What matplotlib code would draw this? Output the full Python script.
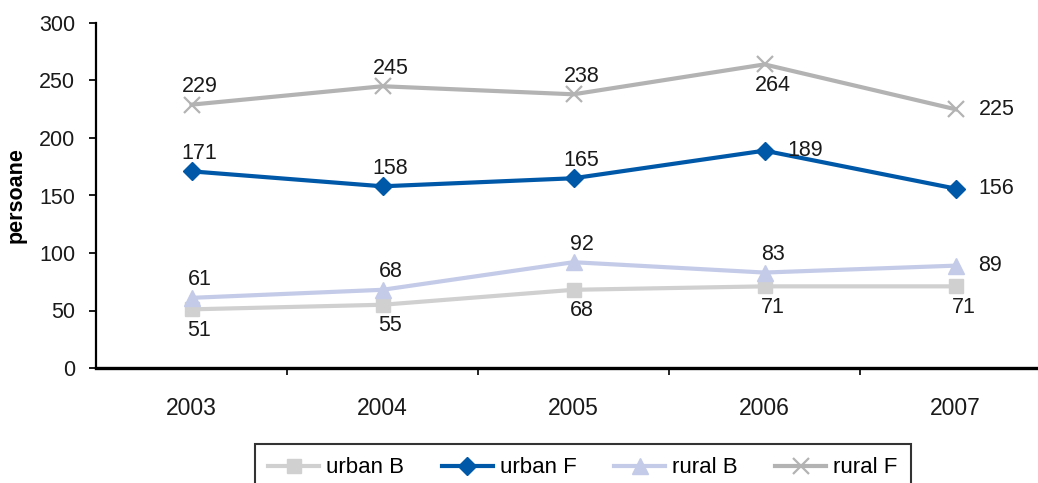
import matplotlib

matplotlib.use("Agg")
import matplotlib.pyplot as plt  # noqa: E402
from matplotlib.ticker import FixedLocator, MultipleLocator  # noqa: E402

plt.rcParams["font.family"] = ["Liberation Sans", "DejaVu Sans"]

years = ["2003", "2004", "2005", "2006", "2007"]
urban_b = [51, 55, 68, 71, 71]
urban_f = [171, 158, 165, 189, 156]
rural_b = [61, 68, 92, 83, 89]
rural_f = [229, 245, 238, 264, 225]

# where each data label sits relative to its point: a=above, b=below, r=right
place_urban_b = ["b", "b", "b", "b", "b"]
place_urban_f = ["a", "a", "a", "r", "r"]
place_rural_b = ["a", "a", "a", "a", "r"]
place_rural_f = ["a", "a", "a", "b", "r"]

OFFSETS = {"a": (8, 18, "center"), "b": (8, -21, "center"), "r": (23, 0, "left")}

series = [
    ("urban B", urban_b, place_urban_b, "#D0D0D0", "s", 10, 1.0),
    ("urban F", urban_f, place_urban_f, "#0058A9", "D", 9.5, 1.0),
    ("rural B", rural_b, place_rural_b, "#C4CBE8", "^", 11, 1.0),
    ("rural F", rural_f, place_rural_f, "#B3B3B3", "x", 12, 1.6),
]

fig = plt.figure(figsize=(10.38, 4.83), dpi=100)
ax = fig.add_axes([96 / 1038, 115 / 483, 955 / 1038, 345 / 483])

x = list(range(len(years)))
for name, vals, place, color, marker, ms, mew in series:
    ax.plot(x, vals, color=color, lw=3, marker=marker, ms=ms,
            mec=color, mfc=color, mew=mew, label=name, clip_on=False)
    for xi, v, p in zip(x, vals, place):
        dx, dy, ha = OFFSETS[p]
        ax.annotate(str(v), (xi, v), xytext=(dx, dy), textcoords="offset pixels",
                    ha=ha, va="center", fontsize=15.5, color="#1a1a1a")

ax.set_xlim(-0.5, len(years) - 0.5)
ax.set_ylim(0, 300)
ax.yaxis.set_major_locator(MultipleLocator(50))
ax.set_xticks(x)
ax.set_xticklabels(years)
ax.xaxis.set_minor_locator(FixedLocator([i + 0.5 for i in x[:-1]]))

for s in ("top", "right"):
    ax.spines[s].set_visible(False)
ax.spines["left"].set_linewidth(1.6)
ax.spines["bottom"].set_linewidth(2.4)

ax.tick_params(axis="y", length=5, width=1.4, pad=10, labelsize=15.5, colors="#1a1a1a")
ax.tick_params(axis="x", which="major", length=0, pad=21, labelsize=16.5, colors="#1a1a1a")
ax.tick_params(axis="x", which="minor", length=5, width=1.2, direction="out")

ax.set_ylabel("persoane", fontsize=15.5, fontweight="bold", labelpad=9)

leg = fig.legend(loc="upper left", bbox_to_anchor=(255 / 1038, 1 - 444 / 483),
                 ncol=4, fontsize=16, frameon=True, fancybox=False,
                 handlelength=2.3, handletextpad=0.3, columnspacing=1.7,
                 borderpad=0.6, borderaxespad=0)
leg.get_frame().set_edgecolor("black")
leg.get_frame().set_linewidth(1.5)

fig.savefig("out.png", dpi=100)
